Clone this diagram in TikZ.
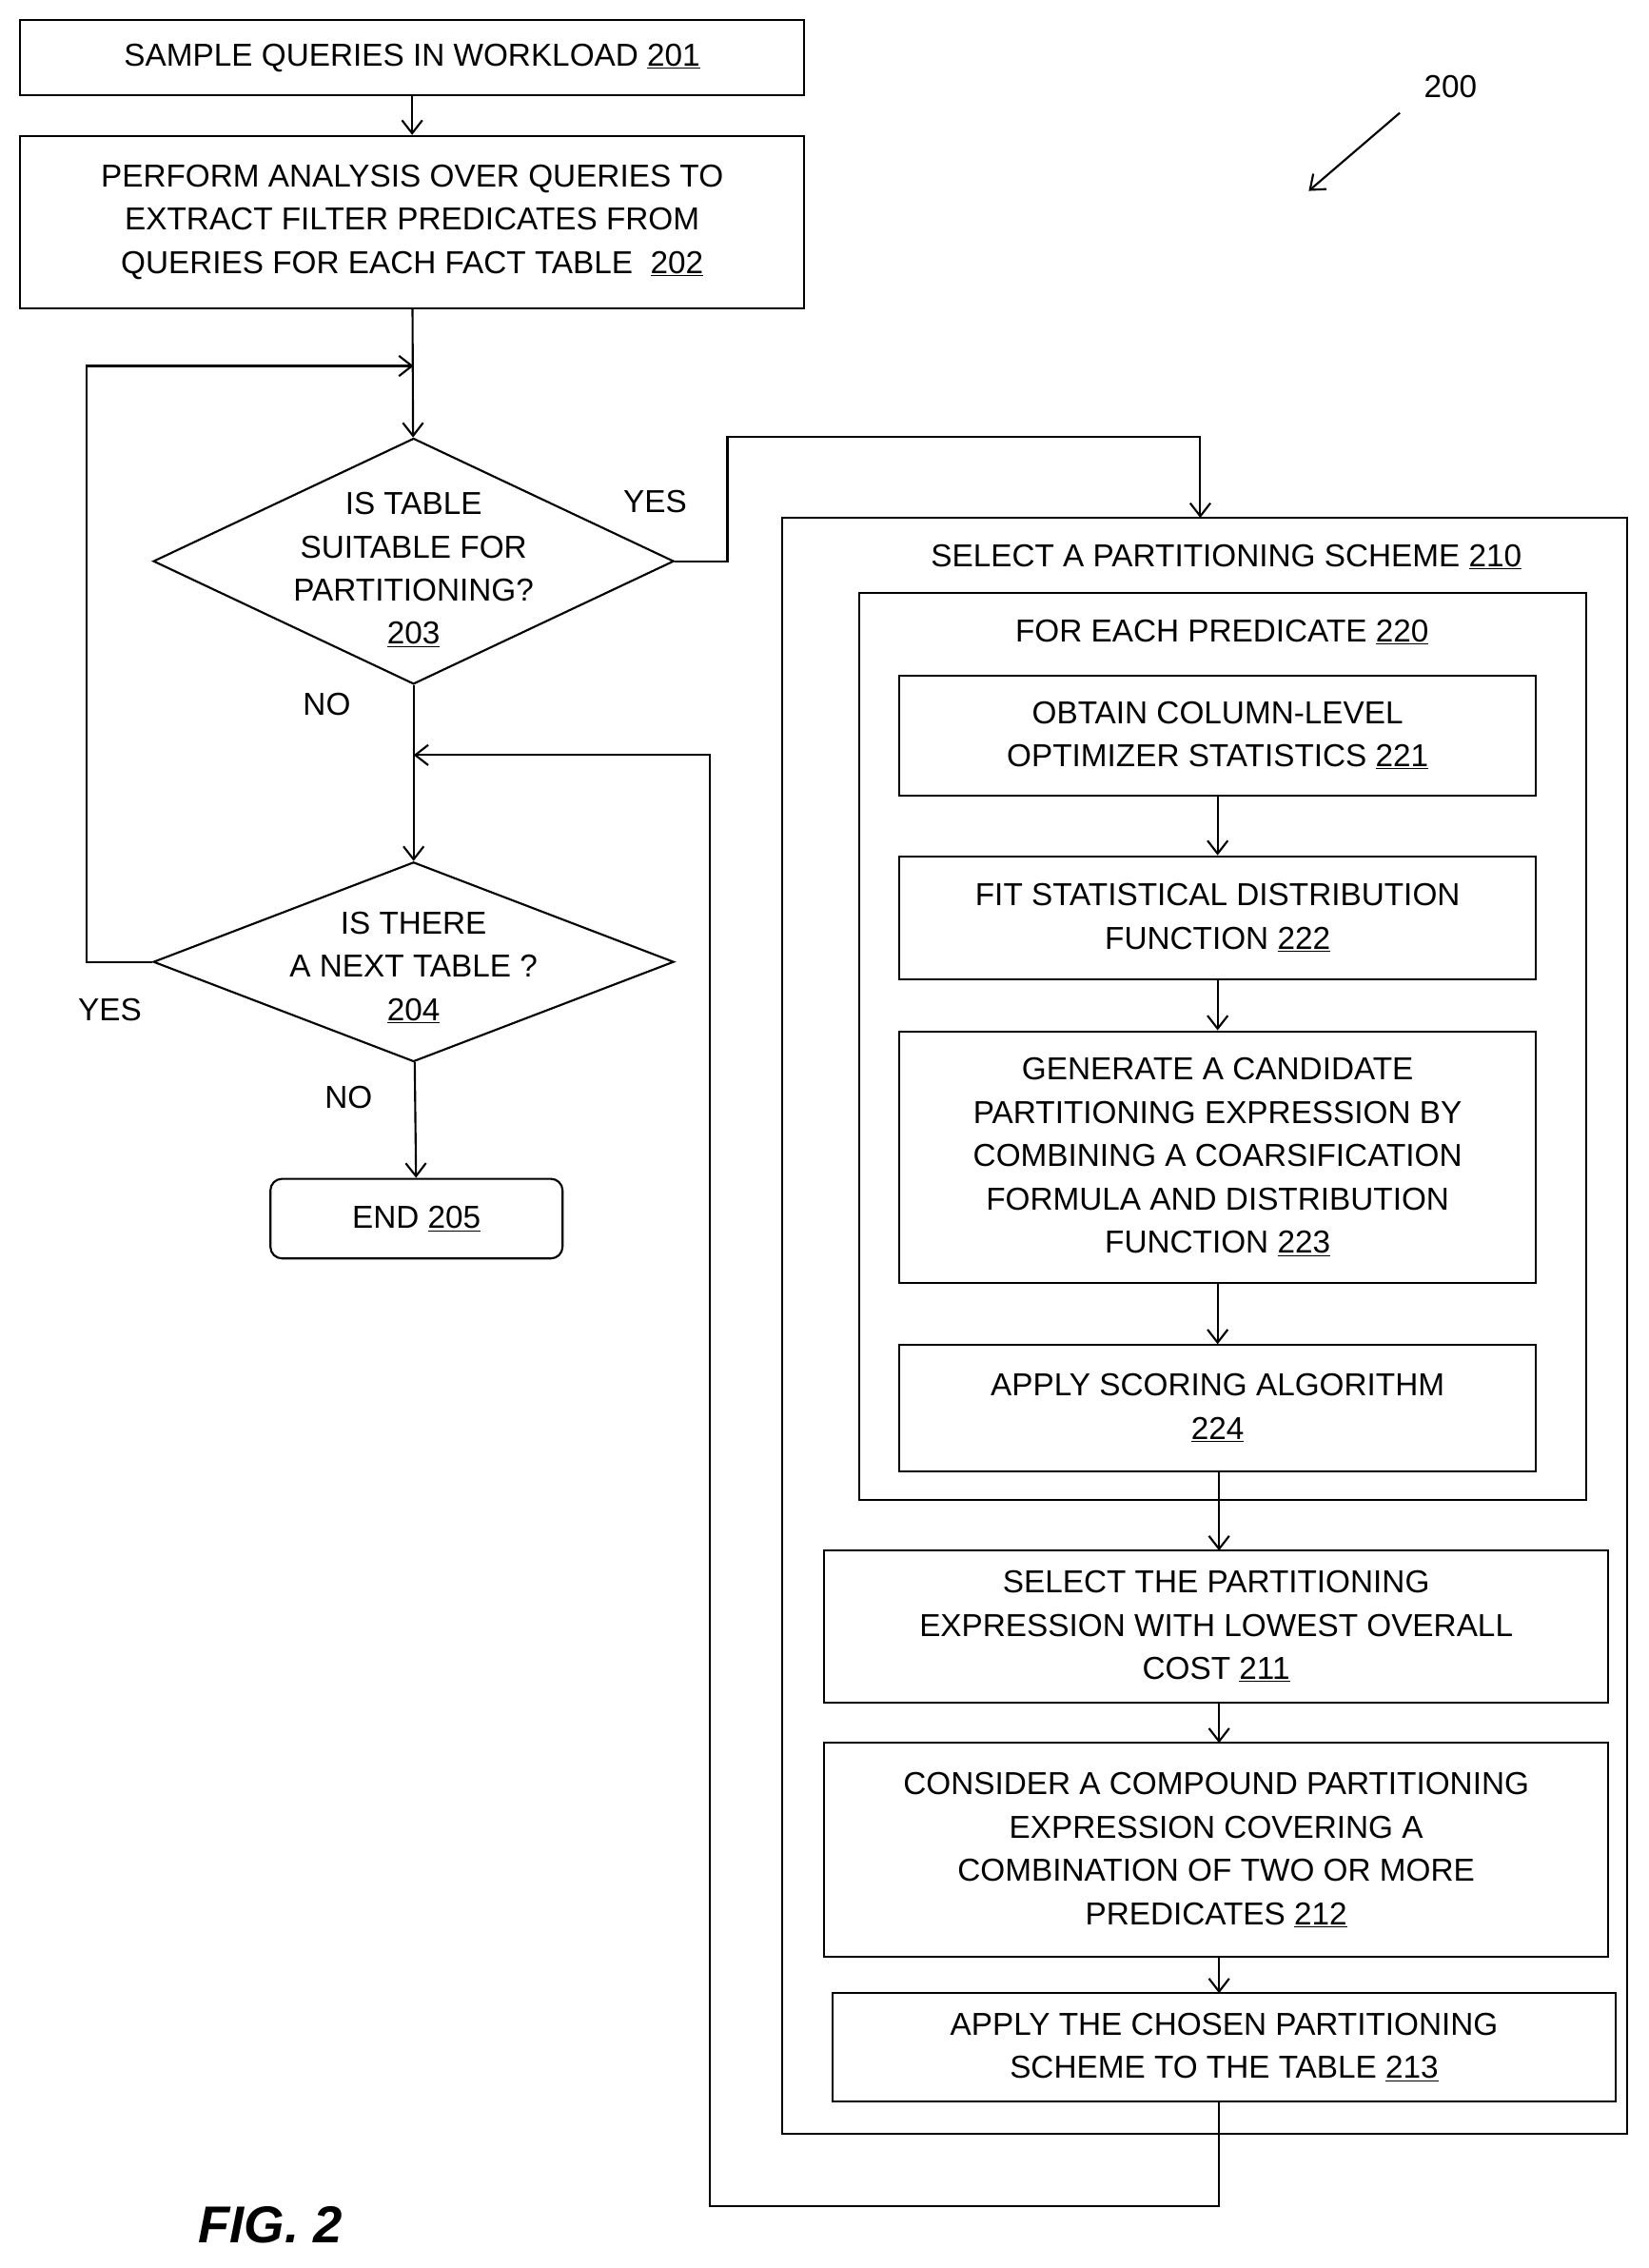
\documentclass[tikz,border=0pt]{standalone}
\usepackage{fontspec}
\setmainfont{Liberation Sans}
\usetikzlibrary{positioning,shapes.geometric,arrows.meta}
\tikzset{
  procbox/.style={draw,line width=1.4bp,align=center,inner sep=0pt,font=\fontsize{22}{30}\selectfont},
  panel/.style={draw,line width=1.4bp,inner sep=0pt},
  lbl/.style={font=\fontsize{22}{26}\selectfont,inner sep=0pt},
  flow/.style={line width=1.4bp,->}
}
\newcommand{\ul}[1]{\underline{#1}}
\begin{document}
\begin{tikzpicture}[>={Straight Barb[length=9bp,width=14bp]},x=1bp,y=-1bp]
\useasboundingbox (0,0) rectangle (1140,1568);
%%
\node (s201) at (285,40) [procbox,minimum width=542bp,minimum height=52bp] {SAMPLE QUERIES IN WORKLOAD \ul{201}};
  \node (s202) at (285,153.5) [procbox,minimum width=542bp,minimum height=119bp] {PERFORM ANALYSIS OVER QUERIES TO\\EXTRACT FILTER PREDICATES FROM\\QUERIES FOR EACH FACT TABLE\ \ \ul{202}};
  \node (t203) at (286,388) [draw,line width=1.4bp,diamond,minimum width=360bp,minimum height=170bp,inner sep=0pt] {};
  \node at (t203) [align=center,font=\fontsize{22}{30}\selectfont,yshift=-6bp] {IS TABLE\\SUITABLE FOR\\PARTITIONING?\\\ul{203}};
  \node (t204) at (286,665) [draw,line width=1.4bp,diamond,minimum width=360bp,minimum height=138bp,inner sep=0pt] {};
  \node at (t204) [align=center,font=\fontsize{22}{30}\selectfont,yshift=-4bp] {IS THERE\\A NEXT TABLE ?\\\ul{204}};
  \node (e205) at (288,842.5) [procbox,rounded corners=8bp,minimum width=202bp,minimum height=55bp] {END \ul{205}};
  \node (f210) at (833,916.5) [panel,minimum width=584bp,minimum height=1117bp] {};
  \node at (848,385) [lbl] {SELECT A PARTITIONING SCHEME \ul{210}};
  \node (f220) at (845.5,723.5) [panel,minimum width=503bp,minimum height=627bp] {};
  \node at (845,437) [lbl] {FOR EACH PREDICATE \ul{220}};
  \node (s221) at (842,508.5) [procbox,minimum width=440bp,minimum height=83bp] {OBTAIN COLUMN-LEVEL\\OPTIMIZER STATISTICS \ul{221}};
  \node (s222) at (842,634.5) [procbox,minimum width=440bp,minimum height=85bp] {FIT STATISTICAL DISTRIBUTION\\FUNCTION \ul{222}};
  \node (s223) at (842,800) [procbox,minimum width=440bp,minimum height=174bp] {GENERATE A CANDIDATE\\PARTITIONING EXPRESSION BY\\COMBINING A COARSIFICATION\\FORMULA AND DISTRIBUTION\\FUNCTION \ul{223}};
  \node (s224) at (842,973.5) [procbox,minimum width=440bp,minimum height=87bp] {APPLY SCORING ALGORITHM\\\ul{224}};
  \node (s211) at (841,1124.5) [procbox,minimum width=542bp,minimum height=105bp] {SELECT THE PARTITIONING\\EXPRESSION WITH LOWEST OVERALL\\COST \ul{211}};
  \node (s212) at (841,1279) [procbox,minimum width=542bp,minimum height=148bp] {CONSIDER A COMPOUND PARTITIONING\\EXPRESSION COVERING A\\COMBINATION OF TWO OR MORE\\PREDICATES \ul{212}};
  \node (s213) at (846.5,1415.5) [procbox,minimum width=541bp,minimum height=75bp] {APPLY THE CHOSEN PARTITIONING\\SCHEME TO THE TABLE \ul{213}};
  \node (n200) at (1003,60) [lbl] {200};
  \coordinate (p200a) at (968,78);
  \coordinate (p200b) at (905,132);
  \coordinate (j1) at (286,253);
  \coordinate (j2) at (286,522);
  \node at (453,347) [lbl] {YES};
  \node at (226,487) [lbl] {NO};
  \node at (76,698) [lbl] {YES};
  \node at (241,759) [lbl] {NO};
  \node at (187,1538) [font=\fontsize{36}{40}\selectfont\itshape\bfseries] {FIG. 2};
  \draw [flow] (p200a) -- (p200b);
  \draw [flow] (s201) -- (s202);
  \draw [flow] (s202) -- (t203);
  \draw [flow] (t203.east) -- (503,388) -- (503,302) -- (830,302) -- (830,358);
  \draw [flow] (t203) -- (t204);
  \draw [flow] (t204.west) -- (60,665) -- (60,253) -- (j1);
  \draw [flow] (t204) -- (e205);
  \draw [flow] (s213.south -| 843,0) -- (843,1525) -- (491,1525) -- (491,522) -- (j2);
  \draw [flow] (s221) -- (s222);
  \draw [flow] (s222) -- (s223);
  \draw [flow] (s223) -- (s224);
  \draw [flow] (s224.south -| 843,0) -- (843,1072);
  \draw [flow] (s211.south -| 843,0) -- (843,1205);
  \draw [flow] (s212.south -| 843,0) -- (843,1378);
%
\end{tikzpicture}
\end{document}
